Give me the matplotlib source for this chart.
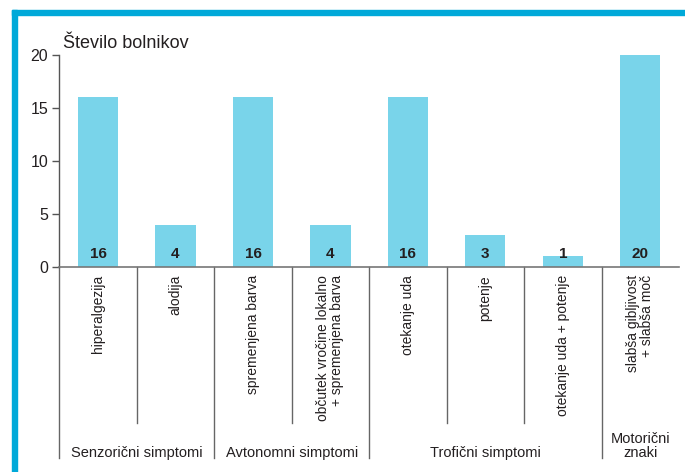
import matplotlib
matplotlib.use("Agg")
import matplotlib.pyplot as plt
from matplotlib.patches import Rectangle
from matplotlib.transforms import blended_transform_factory

categories = ["hiperalgezija", "alodija", "spremenjena barva",
              "občutek vročine lokalno\n+ spremenjena barva", "otekanje uda",
              "potenje", "otekanje uda + potenje", "slabša gibljivost\n+ slabša moč"]
values = [16, 4, 16, 4, 16, 3, 1, 20]
groups = ["Senzorični simptomi", "Avtonomni simptomi", "Trofični simptomi", "Motorični\nznaki"]
group_sizes = [2, 2, 3, 1]
yticks = [0, 5, 10, 15, 20]
title = "Število bolnikov"

plt.rcParams['font.family'] = ['Liberation Sans', 'DejaVu Sans']
TXT = '#231F20'
BAR = '#79D4EA'
EDGE = '#00A9D9'

W, H = 685, 472
fig = plt.figure(figsize=(W / 100, H / 100), dpi=100)
ax = fig.add_axes([59.3 / W, 1 - 267 / H, (679 - 59.3) / W, (267 - 55) / H])

x = list(range(len(categories)))
ax.bar(x, values, width=0.52, color=BAR, zorder=2)
ax.set_xlim(-0.5, len(categories) - 0.5)
ax.set_ylim(0, 20)
ax.set_yticks(yticks)
ax.set_yticklabels([str(t) for t in yticks], fontsize=11.5, color=TXT)
ax.tick_params(axis='y', length=5, width=1, color='#555555', pad=3)
ax.tick_params(axis='x', length=0, labelbottom=False)
for s in ['top', 'right']:
    ax.spines[s].set_visible(False)
ax.spines['left'].set_color('#555555')
ax.spines['bottom'].set_color('#777777')
ax.spines['left'].set_linewidth(1)
ax.spines['bottom'].set_linewidth(1.2)

# value labels
for xi, v in zip(x, values):
    ax.text(xi, 1.25, str(v), ha='center', va='center', fontsize=11,
            color=TXT, fontweight='bold', zorder=3)

def fy(px):
    return 1 - px / H

tr = blended_transform_factory(ax.transData, fig.transFigure)

# category labels
for xi, c in zip(x, categories):
    ax.text(xi, fy(275), c, rotation=90, ha='center', va='top',
            multialignment='right', fontsize=10, color=TXT,
            transform=tr, linespacing=1.0)

# separators
bounds = [0]
for g in group_sizes:
    bounds.append(bounds[-1] + g)
for i in range(len(categories)):
    xb = i - 0.5
    y_end = 458 if i in bounds else 423
    ax.plot([xb, xb], [fy(267), fy(y_end)], color='#666666', lw=1,
            transform=tr, clip_on=False)

# group labels
for gi, g in enumerate(groups):
    cx = (bounds[gi] + bounds[gi + 1]) / 2 - 0.5
    ax.text(cx, fy(460), g, ha='center', va='bottom', fontsize=10.5,
            color=TXT, transform=tr, linespacing=1.0)

# title
fig.text(63 / W, fy(43), title, ha='left', va='center', fontsize=13, color=TXT)

# blue frame
fig.patches.append(Rectangle((12 / W, 0), 5 / W, fy(10), transform=fig.transFigure,
                             color=EDGE, zorder=0))
fig.patches.append(Rectangle((12 / W, fy(15)), 1 - 12 / W, 5 / H, transform=fig.transFigure,
                             color=EDGE, zorder=0))

fig.savefig("out.png", dpi=100)
